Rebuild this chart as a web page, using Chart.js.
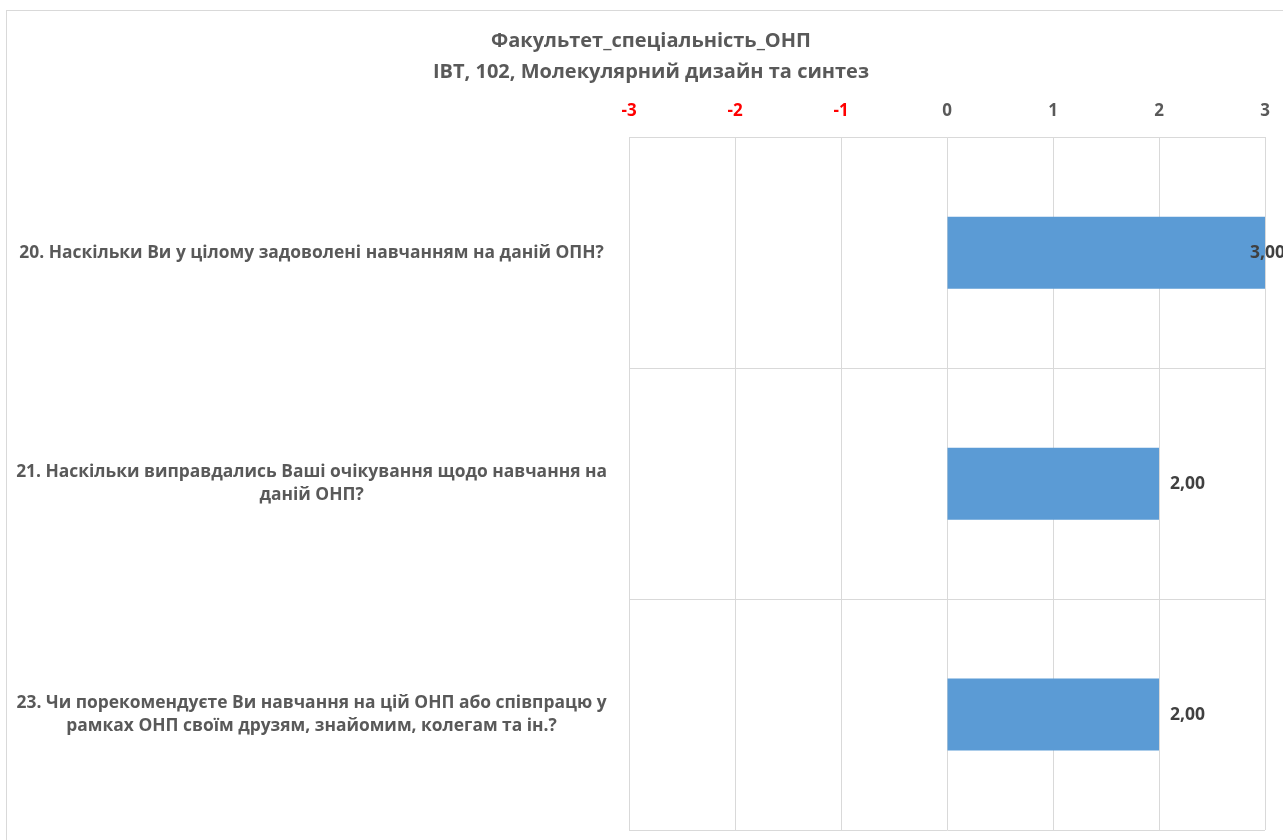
<!DOCTYPE html>
<html>
<head>
<meta charset="utf-8">
<script src="https://cdn.jsdelivr.net/npm/chart.js@4.4.1/dist/chart.umd.min.js"></script>
<style>
  html, body { margin: 0; padding: 0; background: #fff; overflow: hidden; width: 1283px; height: 840px; }
  #frame { position: absolute; left: 6px; top: 10px; width: 1288px; height: 850px; border: 1px solid #d9d9d9; background: #fff; }
  canvas { position: absolute; left: 0; top: 0; }
</style>
</head>
<body>
<div id="frame"><canvas id="c" width="1288" height="840" style="width:1288px;height:840px"></canvas></div>
<script>
const titleLines = ["Факультет_спеціальність_ОНП", "ІВТ, 102, Молекулярний дизайн та синтез"];
const categories = [
  ["20. Наскільки Ви у цілому задоволені навчанням на даній ОПН?"],
  ["21. Наскільки виправдались Ваші очікування щодо навчання на", "даній ОНП?"],
  ["23. Чи порекомендуєте Ви навчання на цій ОНП або співпрацю у", "рамках ОНП своїм друзям, знайомим, колегам та ін.?"]
];
const values = [3.00, 2.00, 2.00];
const tickLabels = [-3, -2, -1, 0, 1, 2, 3];

const FONT = "'Open Sans', 'Liberation Sans', sans-serif";
const GRID = '#d9d9d9';
const TEXT = '#595959';

const valueLabels = {
  id: 'valueLabels',
  afterLayout(chart) {
    // let the category labels use the full left margin (avoid clipping)
    chart.scales.y.left = 0;
  },
  afterDatasetsDraw(chart) {
    const ctx = chart.ctx;
    const meta = chart.getDatasetMeta(0);
    ctx.save();
    ctx.font = "bold 17.5px " + FONT;
    ctx.fillStyle = '#404040';
    ctx.textAlign = 'left';
    ctx.textBaseline = 'middle';
    meta.data.forEach((bar, i) => {
      const txt = values[i].toFixed(2).replace('.', ',');
      const x = Math.min(bar.x + 11, chart.chartArea.right - 15);
      ctx.fillText(txt, x, bar.y);
    });
    ctx.restore();
  }
};

new Chart(document.getElementById('c'), {
  type: 'bar',
  data: {
    labels: categories,
    datasets: [{
      data: values,
      backgroundColor: '#5b9bd5',
      borderWidth: 0,
      barPercentage: 1.0,
      categoryPercentage: 0.312
    }]
  },
  plugins: [valueLabels],
  options: {
    indexAxis: 'y',
    responsive: false,
    maintainAspectRatio: false,
    animation: false,
    layout: { padding: { left: 30, right: 30, top: 0, bottom: 21 } },
    plugins: {
      legend: { display: false },
      tooltip: { enabled: false },
      title: {
        display: true,
        text: titleLines,
        color: TEXT,
        font: { family: FONT, size: 20, weight: 'bold', lineHeight: 1.55 },
        padding: { top: 15, bottom: 0 }
      }
    },
    scales: {
      x: {
        position: 'top',
        min: -3,
        max: 3,
        afterBuildTicks(axis) { axis.ticks = tickLabels.map(v => ({ value: v })); },
        afterFit(axis) { axis.paddingLeft = 0; axis.paddingRight = 0; axis.height = axis.height - 3; },
        ticks: {
          stepSize: 1,
          padding: 16,
          color: (c) => (c.tick && c.tick.value < 0 ? '#ff0000' : TEXT),
          font: { family: FONT, size: 17, weight: 'bold' },
          callback: (v) => String(v)
        },
        grid: { color: GRID, drawTicks: false, lineWidth: 1 },
        border: { color: GRID }
      },
      y: {
        afterFit(axis) { axis.width = 592; axis.paddingTop = 0; axis.paddingBottom = 0; },
        ticks: {
          crossAlign: 'center',
          padding: 22,
          color: TEXT,
          font: { family: FONT, size: 17.4, weight: 'bold', lineHeight: 1.32 }
        },
        grid: { color: GRID, drawTicks: false, offset: true },
        border: { color: GRID }
      }
    }
  }
});
</script>
</body>
</html>
